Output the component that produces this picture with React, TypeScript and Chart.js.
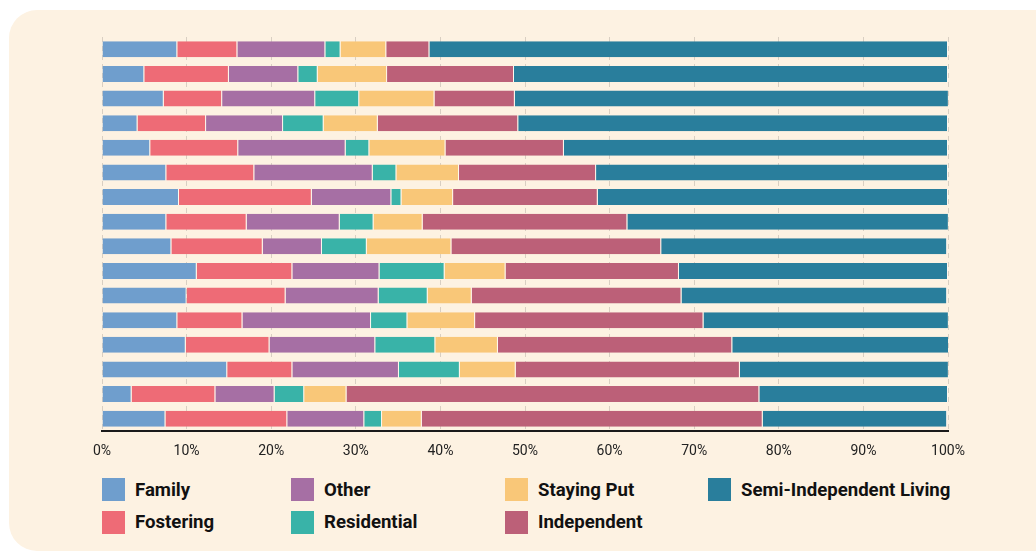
import React, { useEffect, useRef } from "react";
import { Chart, registerables } from "chart.js";

Chart.register(...registerables);

const categories = ["1", "2", "3", "4", "5", "6", "7", "8", "9", "10", "11", "12", "13", "14", "15", "16"];

const family = [8.9, 5.0, 7.3, 4.2, 5.7, 7.6, 9.1, 7.6, 8.2, 11.2, 10.0, 8.9, 9.9, 14.8, 3.5, 7.5];
const fostering = [7.1, 10.0, 6.9, 8.1, 10.4, 10.4, 15.7, 9.5, 10.8, 11.3, 11.7, 7.7, 9.9, 7.7, 9.9, 14.4];
const other = [10.4, 8.2, 11.0, 9.1, 12.7, 14.0, 9.4, 11.0, 7.0, 10.3, 11.0, 15.2, 12.5, 12.6, 7.0, 9.1];
const residential = [1.8, 2.3, 5.2, 4.8, 2.8, 2.8, 1.2, 4.0, 5.3, 7.7, 5.8, 4.3, 7.1, 7.2, 3.5, 2.1];
const stayingPut = [5.4, 8.2, 8.9, 6.4, 9.0, 7.4, 6.1, 5.8, 10.0, 7.2, 5.2, 8.0, 7.4, 6.6, 5.0, 4.7];
const independent = [5.1, 15.0, 9.5, 16.6, 14.0, 16.2, 17.1, 24.2, 24.8, 20.5, 24.8, 27.0, 27.7, 26.5, 48.8, 40.3];
const semiIndependent = [61.3, 51.3, 51.3, 50.8, 45.4, 41.6, 41.4, 38.0, 33.8, 31.8, 31.4, 29.0, 25.7, 24.7, 22.3, 21.8];

const xTicks = [0, 10, 20, 30, 40, 50, 60, 70, 80, 90, 100];

const series = [
  { label: "Family", data: family, color: "#6f9ecd" },
  { label: "Fostering", data: fostering, color: "#ee6b76" },
  { label: "Other", data: other, color: "#a66fa4" },
  { label: "Residential", data: residential, color: "#39b3a8" },
  { label: "Staying Put", data: stayingPut, color: "#f9c778" },
  { label: "Independent", data: independent, color: "#bc6078" },
  { label: "Semi-Independent Living", data: semiIndependent, color: "#297e9c" },
];

const legendColumns = [
  { left: 102, items: [0, 1] },
  { left: 291, items: [2, 3] },
  { left: 505, items: [4, 5] },
  { left: 708, items: [6] },
];

export default function App() {
  const ref = useRef<HTMLCanvasElement>(null);

  useEffect(() => {
    if (!ref.current) return;
    const chart = new Chart(ref.current, {
      type: "bar",
      data: {
        labels: categories,
        datasets: series.map((s) => ({
          label: s.label,
          data: s.data,
          backgroundColor: s.color,
          borderColor: "rgba(255,255,255,0.45)",
          borderWidth: { top: 0, bottom: 0, left: 0, right: 1 },
          borderSkipped: false,
          barPercentage: 0.65,
          categoryPercentage: 1,
        })),
      },
      options: {
        indexAxis: "y",
        responsive: false,
        animation: false,
        layout: { padding: { left: 102, right: 88, top: 37, bottom: 0 } },
        plugins: { legend: { display: false }, tooltip: { enabled: false } },
        scales: {
          x: {
            stacked: true,
            min: 0,
            max: 100,
            afterBuildTicks: (scale: any) => {
              scale.ticks = xTicks.map((v) => ({ value: v }));
            },
            afterFit: (scale: any) => {
              scale.height = 39;
            },
            ticks: {
              callback: (v: any) => v + "%",
              color: "#222",
              font: { family: "Roboto", size: 14 },
              padding: 12,
              maxRotation: 0,
            },
            grid: {
              color: "rgba(0,0,0,0.14)",
              drawTicks: false,
              tickLength: 0,
            },
            border: { display: true, color: "#1a1a1a", width: 2, dash: [5, 4] as any },
          },
          y: {
            stacked: true,
            display: false,
          },
        },
      },
    });
    return () => chart.destroy();
  }, []);

  return (
    <div
      style={{
        position: "fixed",
        left: 0,
        top: 0,
        width: 1036,
        height: 551,
        background: "#ffffff",
        overflow: "hidden",
        fontFamily: "Roboto, sans-serif",
      }}
    >
      <div
        style={{
          position: "absolute",
          left: 9,
          top: 10,
          width: 1060,
          height: 541,
          background: "#fdf2e2",
          borderRadius: 28,
        }}
      />
      <canvas
        ref={ref}
        width={1036}
        height={470}
        style={{ position: "absolute", left: 0, top: 0, width: 1036, height: 470 }}
      />
      {legendColumns.map((col, ci) =>
        col.items.map((idx, ri) => (
          <div
            key={ci + "-" + ri}
            style={{
              position: "absolute",
              left: col.left,
              top: 478 + ri * 32.5,
              height: 23,
              display: "flex",
              alignItems: "center",
              whiteSpace: "nowrap",
            }}
          >
            <span
              style={{
                display: "inline-block",
                width: 23,
                height: 23,
                background: series[idx].color,
                marginRight: 10,
              }}
            />
            <span style={{ fontWeight: 700, fontSize: 18.6, color: "#111" }}>{series[idx].label}</span>
          </div>
        ))
      )}
    </div>
  );
}
